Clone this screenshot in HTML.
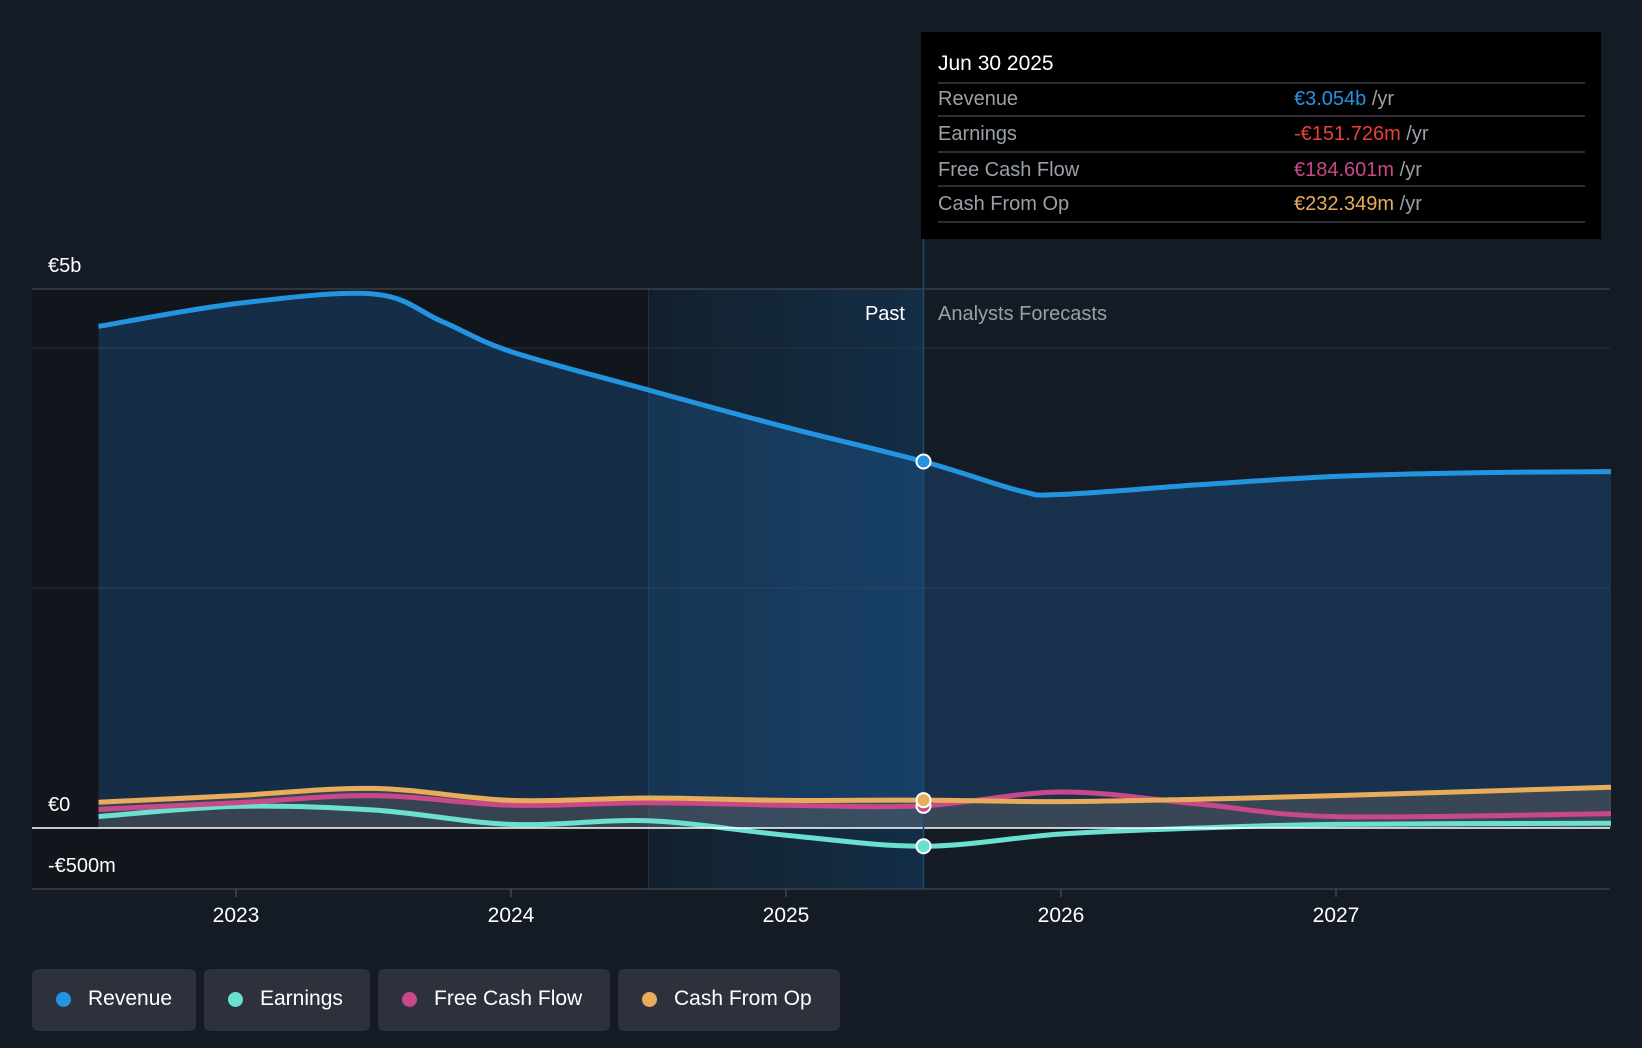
<!DOCTYPE html>
<html><head><meta charset="utf-8">
<style>
body{margin:0;background:#151b24;width:1642px;height:1048px;overflow:hidden;font-family:"Liberation Sans",sans-serif}
svg{position:absolute;left:0;top:0}
.lg{position:absolute;top:969px;height:62px;background:#2c313b;border-radius:6px;color:#fff;font-size:21px;line-height:60px;box-sizing:border-box;padding-left:56px}
.lg i{position:absolute;left:24px;top:23px;width:15px;height:15px;border-radius:50%}
</style></head><body>
<svg id="c" width="1642" height="1048"></svg>
<div class="lg" style="left:32px;width:164px"><i style="background:#2394df"></i>Revenue</div>
<div class="lg" style="left:204px;width:166px"><i style="background:#6be0d0"></i>Earnings</div>
<div class="lg" style="left:378px;width:232px"><i style="background:#c8488a"></i>Free Cash Flow</div>
<div class="lg" style="left:618px;width:222px"><i style="background:#e8ad5a"></i>Cash From Op</div>
<script>
const years=[2022.5,2023.0,2023.5,2023.75,2024.0,2024.5,2025.0,2025.5,2025.85,2026.0,2026.5,2027.0,2027.5,2028.0];
const revenue=[4.18,4.37,4.45,4.22,3.97,3.65,3.34,3.054,2.81,2.78,2.86,2.93,2.96,2.97];
const eYears=[2022.5,2023.0,2023.5,2024.0,2024.5,2025.0,2025.5,2026.0,2026.5,2027.0,2028.0];
const earnings=[0.095,0.18,0.15,0.03,0.06,-0.06,-0.152,-0.05,0,0.03,0.04];
const fcf=[0.155,0.21,0.27,0.19,0.21,0.19,0.185,0.30,0.2,0.095,0.12];
const cfo=[0.215,0.27,0.33,0.23,0.25,0.23,0.232,0.22,0.24,0.27,0.34];
const xTicks=[2023,2024,2025,2026,2027];
const NS="http://www.w3.org/2000/svg";
const svg=document.getElementById('c');
const X=t=>236+(t-2023)*275;
const Y=v=>828-v*120;
function el(tag,attrs,parent){const e=document.createElementNS(NS,tag);for(const k in attrs)e.setAttribute(k,attrs[k]);(parent||svg).appendChild(e);return e;}
function path(xs,vs){const p=xs.map((t,i)=>[X(t),Y(vs[i])]);let d=`M${p[0][0]},${p[0][1]}`;
for(let i=0;i<p.length-1;i++){const p0=p[i-1]||p[i],p1=p[i],p2=p[i+1],p3=p[i+2]||p2;
d+=`C${p1[0]+(p2[0]-p0[0])/6},${p1[1]+(p2[1]-p0[1])/6} ${p2[0]-(p3[0]-p1[0])/6},${p2[1]-(p3[1]-p1[1])/6} ${p2[0]},${p2[1]}`;}return d;}
const defs=el('defs',{});
const g=el('linearGradient',{id:'pg',x1:0,x2:1,y1:0,y2:0},defs);
el('stop',{offset:0,'stop-color':'#13202c'},g);el('stop',{offset:1,'stop-color':'#132e47'},g);
let r=el('rect',{x:32,y:289,width:X(2024.5)-32,height:600,fill:'#11151c'});
r=el('rect',{x:X(2024.5),y:289,width:X(2025.5)-X(2024.5),height:600,fill:'url(#pg)'});
el('line',{x1:X(2024.5),x2:X(2024.5),y1:289,y2:889,stroke:'#1f3040','stroke-width':1});
[4,2].forEach(v=>{const l=el('line',{x1:32,x2:1610,y1:Y(v),y2:Y(v),stroke:'#2a323d','stroke-width':1});});
el('line',{x1:32,x2:1610,y1:289,y2:289,stroke:'#3a4049','stroke-width':1.5});
el('line',{x1:32,x2:1610,y1:889,y2:889,stroke:'#3a4049','stroke-width':1.5});
const rp=path(years,revenue);
const xe=X(years[years.length-1]);
let a=el('path',{d:rp+`L${xe},${Y(0)}L${X(2022.5)},${Y(0)}Z`,fill:'rgba(35,120,200,0.25)'});
a=el('path',{d:path(eYears,cfo)+`L${X(eYears[eYears.length-1])},${Y(0)}L${X(2022.5)},${Y(0)}Z`,fill:'rgba(120,110,100,0.35)'});
const series=[['earnings-line',eYears,earnings,'#6be0d0'],['fcf-line',eYears,fcf,'#c8488a'],['cfo-line',eYears,cfo,'#e8ad5a'],['revenue-line',years,revenue,'#2394df']];
series.forEach(s=>{const p=el('path',{d:path(s[1],s[2]),fill:'none',stroke:s[3],'stroke-width':5,'stroke-linecap':'butt'});});
el('line',{x1:32,x2:1610,y1:Y(0),y2:Y(0),stroke:'#fff','stroke-width':1.5});
el('line',{x1:X(2025.5),x2:X(2025.5),y1:239,y2:889,stroke:'#1e4a6c','stroke-width':1.5});
[[revenue[7],'#2394df','revenue-marker'],[fcf[6],'#c8488a','fcf-marker'],[cfo[6],'#e8ad5a','cfo-marker'],[earnings[6],'#6be0d0','earnings-marker']].forEach(m=>{const c=el('circle',{cx:X(2025.5),cy:Y(m[0]),r:7,fill:m[1],stroke:'#fff','stroke-width':2});});
xTicks.forEach(t=>{el('line',{x1:X(t),x2:X(t),y1:889,y2:897,stroke:'#555b63'});const tx=el('text',{x:X(t),y:922,fill:'#fff','font-size':21,'text-anchor':'middle','font-family':'Liberation Sans'});tx.textContent=t;});
[['€5b',272],['€0',811],['-€500m',872]].forEach(l=>{const tx=el('text',{x:48,y:l[1],fill:'#fff','font-size':20,'font-family':'Liberation Sans'});tx.textContent=l[0];});
let t=el('text',{x:905,y:320,fill:'#fff','font-size':20,'text-anchor':'end','font-family':'Liberation Sans'});t.textContent='Past';
t=el('text',{x:938,y:320,fill:'#9aa0a8','font-size':20,'font-family':'Liberation Sans'});t.textContent='Analysts Forecasts';
const tg=el('g',{});
el('rect',{x:921,y:32,width:680,height:207,fill:'#000'},tg);
t=el('text',{x:938,y:70,fill:'#fff','font-size':21,'font-family':'Liberation Sans'},tg);t.textContent='Jun 30 2025';
[83,116,152,186,222].forEach(y=>el('line',{x1:938,x2:1585,y1:y,y2:y,stroke:'#3a3d42','stroke-width':1.5},tg));
[['Revenue','€3.054b','#2394df',105],['Earnings','-€151.726m','#e8403f',140],['Free Cash Flow','€184.601m','#c8488a',176],['Cash From Op','€232.349m','#e8ad5a',210]].forEach(r=>{
let a=el('text',{x:938,y:r[3],fill:'#9aa0a8','font-size':20,'font-family':'Liberation Sans'},tg);a.textContent=r[0];
let b=el('text',{x:1294,y:r[3],fill:r[2],'font-size':20,'font-family':'Liberation Sans'},tg);b.textContent=r[1];
const ts=el('tspan',{fill:'#9aa0a8'},b);ts.textContent=' /yr';});
</script>
</body></html>
